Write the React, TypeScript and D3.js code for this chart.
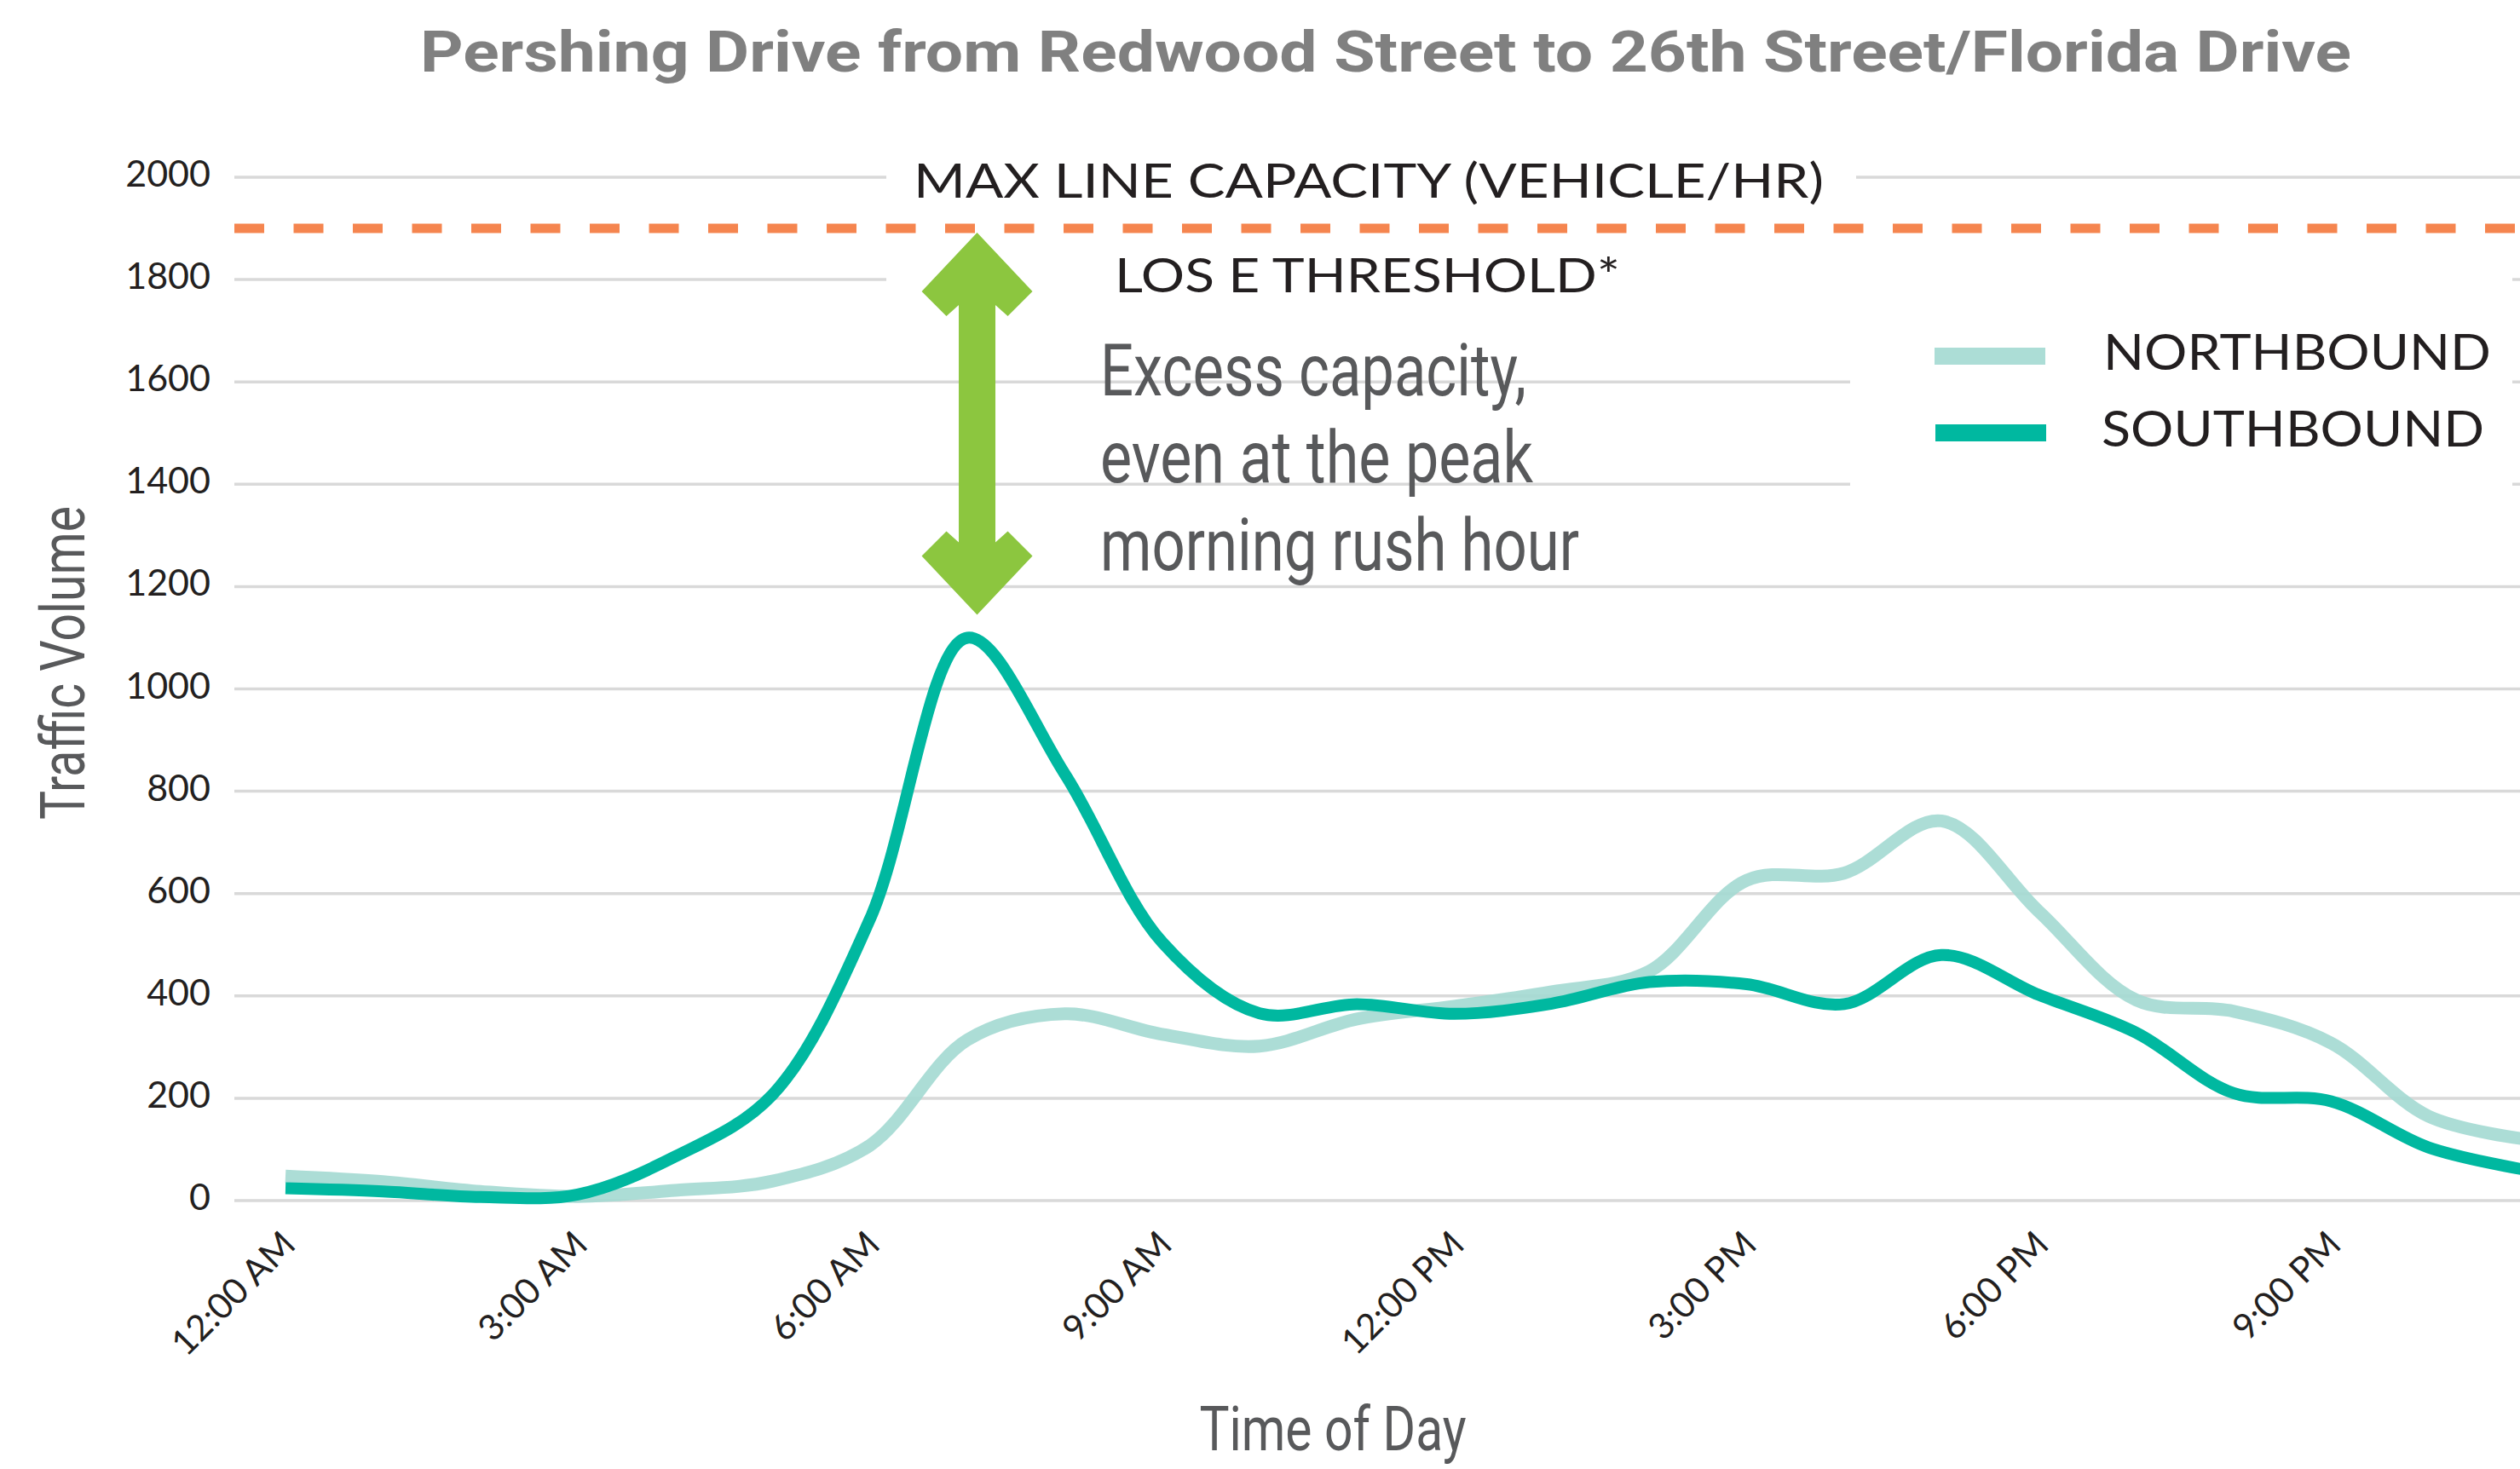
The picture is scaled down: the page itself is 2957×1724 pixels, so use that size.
import React from 'react';
import * as d3 from 'd3';

// ---- data ----
const hours = [0, 1, 2, 3, 4, 5, 6, 7, 8, 9, 10, 11, 12, 13, 14, 15, 16, 17, 18, 19, 20, 21, 22, 23];
const northbound = [48, 37, 18, 8, 20, 38, 108, 314, 365, 325, 302, 355, 380, 408, 448, 626, 640, 742, 565, 392, 370, 308, 165, 120];
const southbound = [24, 18, 7, 12, 86, 207, 550, 1100, 834, 505, 366, 384, 365, 385, 427, 423, 384, 480, 402, 328, 210, 194, 104, 60];
const yTicks = [0, 200, 400, 600, 800, 1000, 1200, 1400, 1600, 1800, 2000];
const xTickHours = [0, 3, 6, 9, 12, 15, 18, 21];
const xTickLabels = ['12:00 AM', '3:00 AM', '6:00 AM', '9:00 AM', '12:00 PM', '3:00 PM', '6:00 PM', '9:00 PM'];
const seriesNames = ['NORTHBOUND', 'SOUTHBOUND'];
const CAPACITY = 1900;
const ARROW_HOUR = 7.1;
const ARROW_END = 1145;

const TITLE = 'Pershing Drive from Redwood Street to 26th Street/Florida Drive';
const noteLines = ['Excess capacity,', 'even at the peak', 'morning rush hour'];

const LIGHT = "Lato, 'Open Sans', 'Noto Sans', sans-serif";
const COND = "Roboto, 'Liberation Sans', sans-serif";

export default function App() {
  const W = 2957;
  const H = 1724;
  const x = d3.scaleLinear().domain([0, 23]).range([335, 335 + 23 * 114.3]);
  const y = d3.scaleLinear().domain([0, 2000]).range([1409, 208]);

  const line = d3
    .line<number>()
    .x((_, i) => x(hours[i]))
    .y((d) => y(d))
    .curve(d3.curveCatmullRom.alpha(0.5));

  const nbColor = '#a3d9d1';
  const sbColor = '#00b8a0';

  // arrow geometry
  const cx = x(ARROW_HOUR);
  const T = y(CAPACITY) + 5;
  const B = y(ARROW_END);
  const arrowPts: [number, number][] = [
    [0, T], [65, T + 69], [36, T + 98], [21.5, T + 85],
    [21.5, B - 85], [36, B - 98], [65, B - 69], [0, B],
    [-65, B - 69], [-36, B - 98], [-21.5, B - 85],
    [-21.5, T + 85], [-36, T + 98], [-65, T + 69],
  ];
  const arrowPath = arrowPts.map((p, i) => `${i ? 'L' : 'M'}${cx + p[0]},${p[1]}`).join('') + 'Z';

  const noteWidths = [500, 508, 562];

  return (
    <svg
      width={W}
      height={H}
      viewBox={`0 0 ${W} ${H}`}
      style={{ position: 'absolute', left: 0, top: 0, background: '#fff' }}
    >
      <rect x={0} y={0} width={W} height={H} fill="#fff" />
      {/* title */}
      <text
        x={493}
        y={83.5}
        fontFamily={COND}
        fontWeight={700}
        fontSize={67}
        fill="#808080"
        textLength={2266}
        lengthAdjust="spacingAndGlyphs"
      >
        {TITLE}
      </text>

      {/* grid */}
      {yTicks.map((t) => (
        <line key={t} x1={275} x2={W} y1={y(t)} y2={y(t)} stroke="#d9d9d9" strokeWidth={3.5} />
      ))}
      {/* y tick labels */}
      {yTicks.map((t) => (
        <text
          key={'l' + t}
          x={247}
          y={y(t) + 11}
          textAnchor="end"
          fontFamily={LIGHT}
          fontWeight={400}
          fontSize={43}
          fill="#231f20"
        >
          {t}
        </text>
      ))}

      {/* label backgrounds */}
      <rect x={1040} y={185} width={1138} height={50} fill="#fff" />
      <rect x={1040} y={295} width={1908} height={60} fill="#fff" />
      <rect x={2171} y={295} width={777} height={320} fill="#fff" />

      {/* capacity dashed line */}
      <line
        x1={275}
        x2={W}
        y1={y(CAPACITY)}
        y2={y(CAPACITY)}
        stroke="#f5854f"
        strokeWidth={11}
        strokeDasharray="35 34.5"
      />

      <text
        x={1072}
        y={232}
        fontFamily={LIGHT}
        fontWeight={400}
        fontSize={56}
        fill="#231f20"
        textLength={1068}
        lengthAdjust="spacingAndGlyphs"
      >
        MAX LINE CAPACITY (VEHICLE/HR)
      </text>
      <text
        x={1308}
        y={343}
        fontFamily={LIGHT}
        fontWeight={400}
        fontSize={56}
        fill="#231f20"
        textLength={593}
        lengthAdjust="spacingAndGlyphs"
      >
        LOS E THRESHOLD*
      </text>

      {/* series lines */}
      <path d={line(northbound) || ''} fill="none" stroke={nbColor} strokeOpacity={0.9} strokeWidth={15} strokeLinejoin="round" />
      <path d={line(southbound) || ''} fill="none" stroke={sbColor} strokeWidth={14} strokeLinejoin="round" />

      {/* arrow */}
      <path d={arrowPath} fill="#8cc63f" />

      {/* note */}
      {noteLines.map((s, i) => (
        <text
          key={s}
          x={1291}
          y={464 + i * 102.3}
          fontFamily={COND}
          fontSize={85}
          fill="#58595b"
          textLength={noteWidths[i]}
          lengthAdjust="spacingAndGlyphs"
        >
          {s}
        </text>
      ))}

      {/* legend */}
      <rect x={2270} y={408} width={130} height={20} fill={nbColor} fillOpacity={0.9} />
      <rect x={2271} y={498} width={130} height={20} fill={sbColor} />
      <text x={2468} y={434} fontFamily={LIGHT} fontWeight={400} fontSize={58} fill="#231f20" textLength={455} lengthAdjust="spacingAndGlyphs">
        {seriesNames[0]}
      </text>
      <text x={2466} y={524} fontFamily={LIGHT} fontWeight={400} fontSize={58} fill="#231f20" textLength={449} lengthAdjust="spacingAndGlyphs">
        {seriesNames[1]}
      </text>

      {/* x tick labels */}
      {xTickHours.map((h, i) => (
        <text
          key={'x' + h}
          transform={`translate(${x(h) + 14},1463) rotate(-45)`}
          textAnchor="end"
          fontFamily={LIGHT}
          fontWeight={400}
          fontSize={42}
          fill="#231f20"
        >
          {xTickLabels[i]}
        </text>
      ))}

      {/* axis titles */}
      <text
        transform="translate(99,962) rotate(-90)"
        fontFamily={COND}
        fontSize={72}
        fill="#58595b"
        textLength={368}
        lengthAdjust="spacingAndGlyphs"
      >
        Traffic Volume
      </text>
      <text
        x={1407.5}
        y={1702}
        fontFamily={COND}
        fontSize={72}
        fill="#58595b"
        textLength={313}
        lengthAdjust="spacingAndGlyphs"
      >
        Time of Day
      </text>
    </svg>
  );
}
